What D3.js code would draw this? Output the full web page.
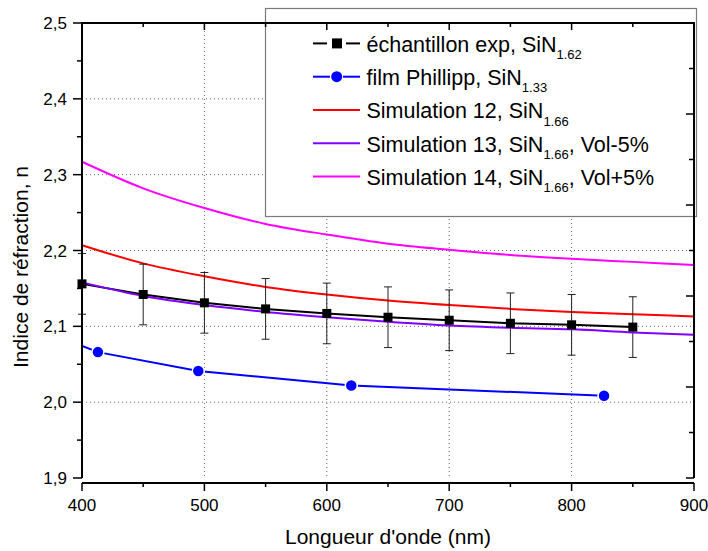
<!DOCTYPE html>
<html>
<head>
<meta charset="utf-8">
<script src="https://cdn.jsdelivr.net/npm/d3@7"></script>
<style>
  html, body { margin: 0; padding: 0; background: #fff; }
  svg { display: block; }
  text { font-family: "Liberation Sans", Arial, sans-serif; fill: #000; }
</style>
</head>
<body>
<svg id="chart" width="708" height="551"></svg>
<script>
// ---------- data ----------
const simWavelengths = [400, 450, 500, 550, 600, 650, 700, 750, 800, 850, 900];
const sim12 = [2.207, 2.183, 2.166, 2.152, 2.142, 2.134, 2.128, 2.123, 2.119, 2.116, 2.113];
const sim13 = [2.158, 2.140, 2.128, 2.119, 2.112, 2.106, 2.101, 2.098, 2.096, 2.092, 2.089];
const sim14 = [2.317, 2.282, 2.256, 2.235, 2.221, 2.209, 2.201, 2.194, 2.189, 2.185, 2.181];

const expWavelengths = [400, 450, 500, 550, 600, 650, 700, 750, 800, 850];
const expValues = [2.156, 2.142, 2.131, 2.123, 2.117, 2.112, 2.108, 2.104, 2.102, 2.099];
const expErrors = [0.04, 0.04, 0.04, 0.04, 0.04, 0.04, 0.04, 0.04, 0.04, 0.04];

const phillippWavelengths = [388, 413, 495, 620, 826.5];
const phillippValues = [2.082, 2.066, 2.041, 2.022, 2.0085];

const xTicks = [400, 500, 600, 700, 800, 900];
const xMinorTicks = [450, 550, 650, 750, 850];
const yTicks = [1.9, 2.0, 2.1, 2.2, 2.3, 2.4, 2.5];
const yMinorTicks = [1.95, 2.05, 2.15, 2.25, 2.35, 2.45];
const yRightMajor = [1.9, 2.02, 2.14, 2.26, 2.38, 2.5];
const yRightMinor = [1.96, 2.08, 2.2, 2.32, 2.44];
const gridX = [500, 600, 700, 800];
const gridY = [2.0, 2.1, 2.2, 2.3, 2.4];

const legendItems = [
  { label: "échantillon exp, SiN", sub: "1.62", tail: "", color: "#000000", marker: "square" },
  { label: "film Phillipp, SiN", sub: "1.33", tail: "", color: "#0000ff", marker: "circle" },
  { label: "Simulation 12, SiN", sub: "1.66", tail: "", color: "#ff0000", marker: null },
  { label: "Simulation 13, SiN", sub: "1.66", tail: ", Vol-5%", color: "#8000ff", marker: null },
  { label: "Simulation 14, SiN", sub: "1.66", tail: ", Vol+5%", color: "#ff00ff", marker: null }
];

// ---------- layout ----------
const L = 82, R = 694, T = 23, B = 478;
const xAxisY = 483;
const svg = d3.select("#chart");
const x = d3.scaleLinear().domain([400, 900]).range([L, R]);
const y = d3.scaleLinear().domain([1.9, 2.5]).range([B, T]);

svg.append("defs").append("clipPath").attr("id", "plotclip")
  .append("rect").attr("x", L).attr("y", T).attr("width", R - L).attr("height", B - T);

// grid
const grid = svg.append("g");
grid.selectAll(".gx").data(gridX).enter().append("line")
  .attr("x1", d => x(d)).attr("x2", d => x(d)).attr("y1", T).attr("y2", B)
  .attr("stroke", "#666").attr("stroke-width", 1).attr("stroke-dasharray", "1,3");
grid.selectAll(".gy").data(gridY).enter().append("line")
  .attr("x1", L).attr("x2", R).attr("y1", d => y(d)).attr("y2", d => y(d))
  .attr("stroke", "#666").attr("stroke-width", 1).attr("stroke-dasharray", "1,3");

// simulation curves
const curveLine = d3.line().x(d => x(d[0])).y(d => y(d[1])).curve(d3.curveMonotoneX);
const sims = [[sim14, "#ff00ff"], [sim12, "#ff0000"]];
const dataG = svg.append("g");
sims.forEach(([vals, col]) => {
  dataG.append("path").datum(simWavelengths.map((w, i) => [w, vals[i]]))
    .attr("d", curveLine).attr("fill", "none").attr("stroke", col).attr("stroke-width", 2);
});

// experimental: error bars, line, squares
const expData = expWavelengths.map((w, i) => [w, expValues[i], expErrors[i]]);
const eb = dataG.append("g");
expData.forEach(d => {
  const xx = x(d[0]);
  eb.append("line").attr("x1", xx).attr("x2", xx).attr("y1", y(d[1] + d[2])).attr("y2", y(d[1] - d[2]))
    .attr("stroke", "#222").attr("stroke-width", 1);
  [d[1] + d[2], d[1] - d[2]].forEach(v => {
    eb.append("line").attr("x1", xx - 4).attr("x2", xx + 4).attr("y1", y(v)).attr("y2", y(v))
      .attr("stroke", "#222").attr("stroke-width", 1);
  });
});
const straight = d3.line().x(d => x(d[0])).y(d => y(d[1]));
dataG.append("path").datum(expData).attr("d", straight)
  .attr("fill", "none").attr("stroke", "#000").attr("stroke-width", 2);

// sim 13 drawn over black line
dataG.append("path").datum(simWavelengths.map((w, i) => [w, sim13[i]]))
  .attr("d", curveLine).attr("fill", "none").attr("stroke", "#8000ff").attr("stroke-width", 2);

dataG.selectAll(".sq").data(expData).enter().append("rect")
  .attr("x", d => x(d[0]) - 4.5).attr("y", d => y(d[1]) - 4.5)
  .attr("width", 9).attr("height", 9).attr("fill", "#000");

// Phillipp
const phData = phillippWavelengths.map((w, i) => [w, phillippValues[i]]);
const phG = svg.append("g").attr("clip-path", "url(#plotclip)");
phG.append("path").datum(phData).attr("d", straight)
  .attr("fill", "none").attr("stroke", "#0000ff").attr("stroke-width", 2);
phG.selectAll("circle").data(phData).enter().append("circle")
  .attr("cx", d => x(d[0])).attr("cy", d => y(d[1])).attr("r", 6)
  .attr("fill", "#0000ff").attr("stroke", "#fff").attr("stroke-width", 1.5);

// legend
const lg = svg.append("g");
lg.append("rect").attr("x", 265.5).attr("y", 8.5).attr("width", 431).attr("height", 208)
  .attr("fill", "#fff").attr("stroke", "#7a7a7a").attr("stroke-width", 1.2);
legendItems.forEach((it, i) => {
  const base = 51.7 + i * 33.3;
  const ly = base - 8.3;
  if (it.marker === "square") {
    lg.append("line").attr("x1", 313).attr("x2", 327).attr("y1", ly).attr("y2", ly).attr("stroke", it.color).attr("stroke-width", 2);
    lg.append("line").attr("x1", 346).attr("x2", 360).attr("y1", ly).attr("y2", ly).attr("stroke", it.color).attr("stroke-width", 2);
    lg.append("rect").attr("x", 332).attr("y", ly - 5).attr("width", 10).attr("height", 10).attr("fill", it.color);
  } else if (it.marker === "circle") {
    lg.append("line").attr("x1", 313).attr("x2", 330).attr("y1", ly).attr("y2", ly).attr("stroke", it.color).attr("stroke-width", 2);
    lg.append("line").attr("x1", 343).attr("x2", 360).attr("y1", ly).attr("y2", ly).attr("stroke", it.color).attr("stroke-width", 2);
    lg.append("circle").attr("cx", 336.7).attr("cy", ly).attr("r", 5.5).attr("fill", it.color);
  } else {
    lg.append("line").attr("x1", 313).attr("x2", 360).attr("y1", ly).attr("y2", ly).attr("stroke", it.color).attr("stroke-width", 2);
  }
  const t = lg.append("text").attr("x", 366.5).attr("y", base).attr("font-size", 21.5);
  t.append("tspan").text(it.label);
  t.append("tspan").attr("font-size", 13).attr("dy", 7.3).text(it.sub);
  if (it.tail) t.append("tspan").attr("dy", -7.3).text(it.tail);
});

// axes
const ax = svg.append("g").attr("stroke", "#000").attr("fill", "none");
// left
ax.append("line").attr("x1", L).attr("x2", L).attr("y1", T).attr("y2", B).attr("stroke-width", 2);
yTicks.forEach(v => ax.append("line").attr("x1", L - 9).attr("x2", L).attr("y1", y(v)).attr("y2", y(v)).attr("stroke-width", 1.5));
yMinorTicks.forEach(v => ax.append("line").attr("x1", L - 5).attr("x2", L).attr("y1", y(v)).attr("y2", y(v)).attr("stroke-width", 1.5));
// right
ax.append("line").attr("x1", R).attr("x2", R).attr("y1", T).attr("y2", B).attr("stroke-width", 2);
yRightMajor.forEach(v => ax.append("line").attr("x1", R - 8).attr("x2", R).attr("y1", y(v)).attr("y2", y(v)).attr("stroke-width", 1.5));
yRightMinor.forEach(v => ax.append("line").attr("x1", R - 5).attr("x2", R).attr("y1", y(v)).attr("y2", y(v)).attr("stroke-width", 1.5));
// top
ax.append("line").attr("x1", L - 1).attr("x2", R + 1).attr("y1", T).attr("y2", T).attr("stroke-width", 2);
xTicks.forEach(v => ax.append("line").attr("x1", x(v)).attr("x2", x(v)).attr("y1", T).attr("y2", T + 7).attr("stroke-width", 1.5));
xMinorTicks.forEach(v => ax.append("line").attr("x1", x(v)).attr("x2", x(v)).attr("y1", T).attr("y2", T + 4).attr("stroke-width", 1.5));
// bottom
ax.append("line").attr("x1", L).attr("x2", R).attr("y1", xAxisY).attr("y2", xAxisY).attr("stroke-width", 2);
xTicks.forEach(v => ax.append("line").attr("x1", x(v)).attr("x2", x(v)).attr("y1", xAxisY).attr("y2", xAxisY + 8).attr("stroke-width", 1.5));
xMinorTicks.forEach(v => ax.append("line").attr("x1", x(v)).attr("x2", x(v)).attr("y1", xAxisY).attr("y2", xAxisY + 4).attr("stroke-width", 1.5));

// tick labels
const fmt = v => d3.format(".1f")(v).replace(".", ",");
svg.append("g").selectAll("text").data(yTicks).enter().append("text")
  .attr("x", L - 15).attr("y", d => y(d)).attr("dy", "0.36em")
  .attr("text-anchor", "end").attr("font-size", 17).text(fmt);
svg.append("g").selectAll("text").data(xTicks).enter().append("text")
  .attr("x", d => x(d)).attr("y", 511)
  .attr("text-anchor", "middle").attr("font-size", 17).text(d => d);

// axis titles
svg.append("text").attr("x", (L + R) / 2).attr("y", 544).attr("text-anchor", "middle")
  .attr("font-size", 21).text("Longueur d'onde (nm)");
svg.append("text").attr("transform", "translate(28,267) rotate(-90)").attr("text-anchor", "middle")
  .attr("font-size", 21).text("Indice de réfraction, n");
</script>
</body>
</html>
